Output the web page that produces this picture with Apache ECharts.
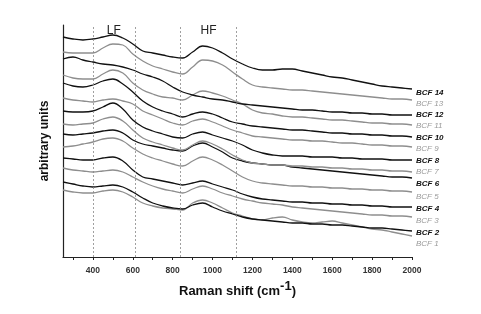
<!DOCTYPE html>
<html><head><meta charset="utf-8">
<script src="https://cdn.jsdelivr.net/npm/echarts@6/dist/echarts.min.js"></script>
<style>html,body{margin:0;padding:0;background:#fff}#c{width:481px;height:314px}</style>
</head><body><div id="c"></div>
<script>
// Raman shift (cm-1) sample positions
const ramanShift = [250,300,350,400,450,500,550,600,650,700,750,800,850,900,950,1000,1050,1100,1150,1200,1250,1300,1350,1400,1450,1500,1550,1600,1650,1700,1750,1800,1850,1900,1950,2000];
// intensities (arbitrary units, stacked with offsets)
const BCF14 = [220,218,217,218,220,222,219,213,206,204,202,200,199,205,211,209,204,198,193,189,187,187,188,188,186,184,182,180,179,177,175,173,171,170,169,168];
const BCF13 = [205,204,204,204,209,213,212,203,196,191,188,185,183,190,197,196,192,185,178,172,170,169,168,167,167,166,165,164,163,162,161,160,159,158,158,157];
const BCF12 = [198,200,197,195,193,192,190,187,183,180,176,170,165,162,160,158,157,155,153,152,151,150,149,148,147,147,146,145,145,144,144,143,143,142,142,142];
const BCF11 = [182,179,178,178,183,187,184,174,167,163,160,159,157,162,166,164,161,157,153,147,144,143,141,140,140,139,138,137,137,136,135,134,134,133,133,132];
const BCF10 = [174,171,170,172,176,178,173,165,156,150,146,143,140,143,145,143,139,135,133,131,130,129,128,127,127,126,125,124,124,123,123,122,122,121,121,120];
const BCF9  = [159,157,156,155,157,158,156,153,146,142,138,134,132,136,138,135,131,127,124,121,120,119,118,117,117,116,116,115,114,114,113,112,112,111,111,110];
const BCF8  = [146,145,145,146,150,154,148,137,130,126,123,120,119,123,125,122,119,116,112,107,104,102,101,101,101,100,100,100,99,99,98,98,98,97,97,97];
const BCF7  = [133,132,133,134,138,140,136,127,119,115,112,109,107,112,116,113,108,102,97,94,93,92,92,91,91,90,90,89,89,88,88,87,87,86,86,85];
const BCF6  = [123,122,123,124,126,127,124,117,113,111,109,107,106,111,114,110,105,99,96,94,93,92,92,90,89,88,87,86,85,84,83,82,81,80,80,79];
const BCF5  = [110,111,113,115,118,119,116,109,103,99,96,93,91,96,100,97,92,86,80,76,74,73,72,71,71,70,70,69,69,68,68,67,67,66,66,65];
const BCF4  = [99,98,97,97,99,100,96,87,80,78,76,74,72,74,76,73,70,67,63,60,58,57,56,55,55,54,54,53,53,52,52,51,51,50,50,50];
const BCF3  = [89,87,86,85,86,87,85,80,75,71,68,66,64,68,71,68,64,61,58,56,54,53,52,50,49,48,47,46,45,44,43,42,42,41,41,40];
const BCF2  = [75,73,71,70,71,72,70,65,59,54,51,49,48,52,54,50,46,43,40,38,37,36,35,34,34,33,33,32,32,31,30,29,29,28,27,26];
const BCF1  = [67,65,64,64,66,67,65,60,54,51,49,48,47,54,57,54,49,44,41,38,37,39,40,37,35,34,35,36,34,32,30,28,27,25,23,21];
const seriesNames = ['BCF 1','BCF 2','BCF 3','BCF 4','BCF 5','BCF 6','BCF 7','BCF 8','BCF 9','BCF 10','BCF 11','BCF 12','BCF 13','BCF 14'];
const seriesValues = [BCF1,BCF2,BCF3,BCF4,BCF5,BCF6,BCF7,BCF8,BCF9,BCF10,BCF11,BCF12,BCF13,BCF14];
// band regions and boundaries
const bandLines = [400,610,840,1120];
const bands = [{name:'LF', from:400, to:610},{name:'HF', from:840, to:1120}];
const xTickLabels = [400,600,800,1000,1200,1400,1600,1800,2000];
const xTicks = [300,400,500,600,700,800,900,1000,1100,1200,1300,1400,1500,1600,1700,1800,1900,2000];

// label style offsets (px) for end labels
const labelDy = [8,2,4,2,5,6,0,1,2,1,1,0,4,4];

const chart = echarts.init(document.getElementById('c'), null, {renderer:'canvas'});
const series = seriesValues.map((vals, i) => {
  const dark = (i % 2 === 1);
  const s = {
    name: seriesNames[i],
    type: 'line',
    data: ramanShift.map((x, k) => [x, vals[k]]),
    symbol: 'none',
    smooth: 0.4,
    silent: true,
    lineStyle: {color: dark ? '#111' : '#8e8e8e', width: 1.3},
    endLabel: {
      show: true,
      formatter: seriesNames[i],
      color: dark ? '#111' : '#9a9a9a',
      fontFamily: 'Liberation Sans, Arial, sans-serif',
      fontSize: 8,
      fontStyle: 'italic',
      fontWeight: dark ? 'bold' : 'normal',
      distance: 4,
      offset: [0, labelDy[i]]
    },
    z: 2
  };
  if (i === 0) {
    s.markLine = {
      silent: true, symbol: ['none','none'], label: {show:false},
      lineStyle: {type: [2,2], color: '#888', width: 0.8},
      data: bandLines.map(v => ({xAxis: v}))
    };
    s.markArea = {
      silent: true,
      itemStyle: {color: 'rgba(0,0,0,0)'},
      label: {show: true, position: 'insideTop', distance: 0, color: '#222', fontSize: 12,
              fontFamily: 'Liberation Sans, Arial, sans-serif'},
      data: bands.map(b => [{name: b.name, xAxis: b.from}, {xAxis: b.to}])
    };
  }
  return s;
});

chart.setOption({
  animation: false,
  backgroundColor: '#fff',
  grid: {left: 63, right: 69, top: 25, bottom: 57},
  xAxis: {
    type: 'value', min: 250, max: 2000,
    name: '{a|Raman shift (cm}{s|-1}{a|)}',
    nameLocation: 'middle', nameGap: 15,
    nameTextStyle: {
      rich: {
        a: {fontSize: 13, fontWeight: 'bold', color: '#111', fontFamily: 'Liberation Sans, Arial, sans-serif', verticalAlign: 'bottom', lineHeight: 18},
        s: {fontSize: 13, fontWeight: 'bold', color: '#111', fontFamily: 'Liberation Sans, Arial, sans-serif', verticalAlign: 'top', lineHeight: 18}
      }
    },
    axisLine: {show: true, onZero: false, lineStyle: {color: '#222', width: 1.2}},
    axisTick: {show: true, inside: false, length: 3, customValues: xTicks, lineStyle: {color: '#222'}},
    axisLabel: {customValues: xTickLabels, fontSize: 8.5, fontWeight: 'bold', color: '#333', margin: 9,
                formatter: v => String(v),
                fontFamily: 'Liberation Sans, Arial, sans-serif'},
    splitLine: {show: false}
  },
  yAxis: {
    type: 'value', min: 0, max: 232,
    name: 'arbitrary units', nameLocation: 'middle', nameGap: 12,
    nameTextStyle: {fontSize: 12, fontWeight: 'bold', color: '#111', fontFamily: 'Liberation Sans, Arial, sans-serif'},
    axisLine: {show: true, lineStyle: {color: '#222', width: 1.2}},
    axisTick: {show: false},
    axisLabel: {show: false},
    splitLine: {show: false}
  },
  series: series
});
</script></body></html>
